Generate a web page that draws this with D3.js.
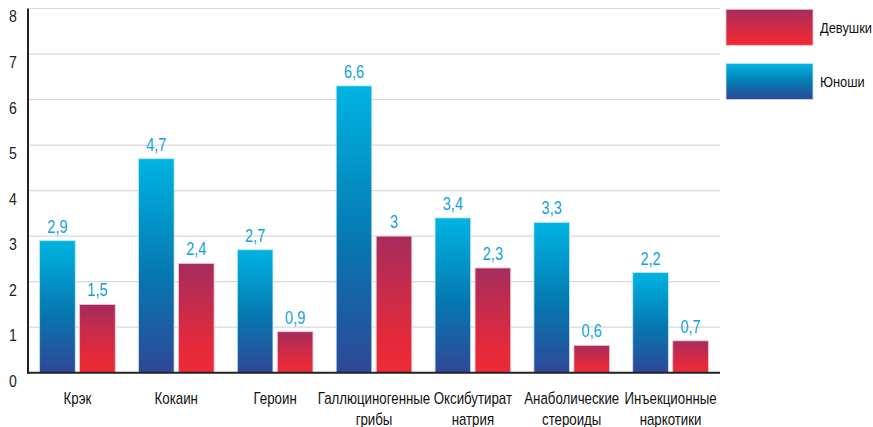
<!DOCTYPE html>
<html>
<head>
<meta charset="utf-8">
<script src="https://cdn.jsdelivr.net/npm/d3@7"></script>
<style>
html,body{margin:0;padding:0;background:#fff;}
svg{display:block;}
text{font-family:"Liberation Sans Narrow","Arial Narrow","Liberation Sans",Arial,sans-serif;}
</style>
</head>
<body>
<svg id="chart" width="873" height="427"></svg>
<script>
const categories = [
  ["Крэк"],
  ["Кокаин"],
  ["Героин"],
  ["Галлюциногенные","грибы"],
  ["Оксибутират","натрия"],
  ["Анаболические","стероиды"],
  ["Инъекционные","наркотики"]
];
const boysValues  = [2.9, 4.7, 2.7, 6.3, 3.4, 3.3, 2.2];
const boysLabels  = ["2,9","4,7","2,7","6,6","3,4","3,3","2,2"];
const girlsValues = [1.5, 2.4, 0.9, 3.0, 2.3, 0.6, 0.7];
const girlsLabels = ["1,5","2,4","0,9","3","2,3","0,6","0,7"];
const yTicks = [0,1,2,3,4,5,6,7,8];
const seriesNames = ["Девушки","Юноши"];

const svg = d3.select("#chart");
const defs = svg.append("defs");
const SX = 0.83; // horizontal condensing to mimic a narrow typeface

function grad(id, stops){
  const g = defs.append("linearGradient").attr("id", id)
    .attr("x1",0).attr("y1",0).attr("x2",0).attr("y2",1);
  stops.forEach(s => g.append("stop").attr("offset", s[0]).attr("stop-color", s[1]));
}
grad("gBoys", [[0,"#00b4e1"],[0.55,"#0677b0"],[1,"#2f4796"]]);
grad("gGirls", [[0,"#a52c5e"],[0.7,"#e02a3d"],[1,"#ef2a35"]]);

const x0 = 28, x1 = 720;
const y = d3.scaleLinear().domain([0, 8]).range([372.7, 8.5]);
const x = d3.scaleBand().domain(d3.range(categories.length)).range([x0, x1]);
const barW = 35.6, gap = 2.2;

// gridlines
svg.append("g").selectAll("line").data(yTicks.filter(t => t > 0)).join("line")
  .attr("x1", x0).attr("x2", x1)
  .attr("y1", d => y(d)).attr("y2", d => y(d))
  .attr("stroke", "#d9d9d9").attr("stroke-width", 1.2);

// y tick labels
svg.append("g").selectAll("text").data(yTicks).join("text")
  .attr("transform", d => `translate(13,${y(d) + 8}) scale(${SX},1)`)
  .attr("text-anchor", "middle").attr("dominant-baseline", "central")
  .attr("font-size", 17).attr("fill", "#222")
  .text(d => d);

// bars
const groups = svg.append("g").selectAll("g").data(categories).join("g")
  .attr("transform", (d, i) => `translate(${x(i) + x.bandwidth() / 2},0)`);

groups.append("rect")
  .attr("x", -gap - barW).attr("width", barW)
  .attr("y", (d, i) => y(boysValues[i]))
  .attr("height", (d, i) => y(0) - y(boysValues[i]))
  .attr("fill", "url(#gBoys)").attr("stroke", "#bfe6f3").attr("stroke-width", 0.8);

groups.append("rect")
  .attr("x", gap).attr("width", barW)
  .attr("y", (d, i) => y(girlsValues[i]))
  .attr("height", (d, i) => y(0) - y(girlsValues[i]))
  .attr("fill", "url(#gGirls)").attr("stroke", "#f2c6cf").attr("stroke-width", 0.8);

// value labels
groups.append("text")
  .attr("transform", (d, i) => `translate(${-gap - barW / 2},${y(boysValues[i]) - 8}) scale(${SX},1)`)
  .attr("text-anchor", "middle").attr("font-size", 17.5).attr("fill", "#0ea2dc")
  .text((d, i) => boysLabels[i]);
groups.append("text")
  .attr("transform", (d, i) => `translate(${gap + barW / 2},${y(girlsValues[i]) - 8}) scale(${SX},1)`)
  .attr("text-anchor", "middle").attr("font-size", 17.5).attr("fill", "#0ea2dc")
  .text((d, i) => girlsLabels[i]);

// category labels
groups.append("text")
  .attr("transform", `translate(0,404) scale(${SX},1)`)
  .attr("text-anchor", "middle").attr("font-size", 16).attr("fill", "#111")
  .selectAll("tspan").data(d => d).join("tspan")
  .attr("x", 0).attr("y", (d, j) => j * 21)
  .text(d => d);

// axes lines
svg.append("line").attr("x1", x0).attr("x2", x0).attr("y1", y(8)).attr("y2", y(0) + 1)
  .attr("stroke", "#222").attr("stroke-width", 2);
svg.append("line").attr("x1", x0 - 1).attr("x2", x1).attr("y1", y(0)).attr("y2", y(0))
  .attr("stroke", "#222").attr("stroke-width", 2);

// legend
const legend = svg.append("g");
const legY = [9.3, 63.5];
const legFill = ["url(#gGirls)", "url(#gBoys)"];
const legStroke = ["#f2c6cf", "#bfe6f3"];
seriesNames.forEach((name, k) => {
  legend.append("rect").attr("x", 726).attr("y", legY[k]).attr("width", 87).attr("height", 36)
    .attr("fill", legFill[k]).attr("stroke", legStroke[k]).attr("stroke-width", 0.8);
  legend.append("text").attr("transform", `translate(820,${legY[k] + 18}) scale(${SX},1)`)
    .attr("dominant-baseline", "central").attr("font-size", 15.5).attr("fill", "#111")
    .text(name);
});
</script>
</body>
</html>
